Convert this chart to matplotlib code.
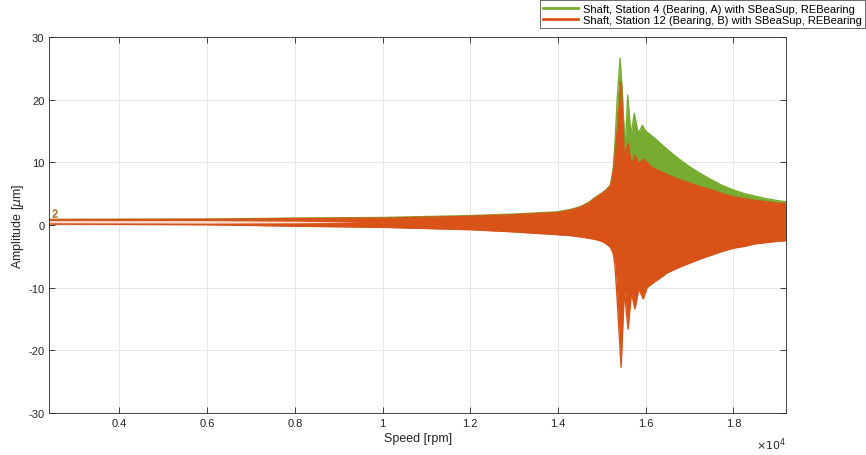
import matplotlib.pyplot as plt
import numpy as np
from matplotlib.ticker import FuncFormatter

plt.rcParams['font.family'] = ['Liberation Sans', 'DejaVu Sans']
plt.rcParams['axes.unicode_minus'] = False

# envelopes of the run-up response
green_speed = [2400, 6000, 8100, 10000, 12000, 13000, 14000, 14300, 14500, 14700, 14850,
               15000, 15100, 15200, 15260, 15300, 15350, 15416, 15470, 15530, 15590,
               15667, 15738, 15833, 15924, 16000, 16213, 16500, 16745, 17000, 17250,
               17500, 17750, 18000, 18250, 18500, 18750, 19000, 19200]
green_upper = [0.9, 0.95, 1.1, 1.2, 1.5, 1.75, 2.1, 2.5, 2.9, 3.6, 4.4,
               5.1, 5.6, 6.4, 9.0, 13.0, 20.0, 26.6, 21.0, 12.0, 20.7,
               14.3, 17.8, 14.6, 15.9, 15.0, 13.8, 12.0, 10.6, 9.3, 8.2,
               7.2, 6.3, 5.6, 5.0, 4.6, 4.2, 3.9, 3.7]
green_lower = [0.8, 0.7, 0.3, 0.0, -0.5, -0.9, -1.3, -1.5, -1.7, -1.9, -2.0,
               -2.4, -2.8, -3.4, -4.0, -5.5, -8.0, -20.0, -12.0, -9.0, -14.0,
               -9.5, -12.0, -9.0, -10.5, -10.0, -8.5, -7.0, -6.0, -5.4, -4.8,
               -4.3, -3.8, -3.3, -3.0, -2.8, -2.5, -2.3, -2.2]

orange_speed = [2400, 6000, 8100, 10000, 12000, 13000, 14000, 14300, 14500, 14700, 14850,
                15000, 15100, 15200, 15260, 15300, 15350, 15440, 15515, 15560, 15600,
                15675, 15755, 15845, 15945, 16030, 16140, 16500, 16780, 17000, 17250,
                17500, 17750, 18000, 18250, 18500, 18750, 19000, 19200]
orange_upper = [0.85, 0.9, 1.05, 1.1, 1.4, 1.65, 2.0, 2.4, 2.8, 3.5, 4.3,
                5.0, 5.5, 6.3, 8.5, 11.0, 15.0, 22.8, 10.6, 12.0, 13.0,
                9.5, 11.1, 9.8, 10.5, 10.0, 9.2, 8.0, 7.2, 6.7, 6.1,
                5.6, 5.0, 4.5, 4.2, 3.9, 3.7, 3.5, 3.4]
orange_lower = [0.15, 0.05, -0.2, -0.37, -0.75, -1.1, -1.55, -1.7, -1.9, -2.1, -2.3,
                -2.6, -3.0, -3.6, -4.5, -6.5, -11.8, -22.7, -10.2, -14.0, -16.6,
                -10.8, -13.4, -10.2, -11.8, -10.0, -9.4, -7.6, -6.7, -6.1, -5.4,
                -4.8, -4.2, -3.7, -3.4, -3.0, -2.8, -2.6, -2.5]

# sparse region inside the orange band at low speed
gap_speed = [2400, 6000, 8100, 9500]
gap_lo = [0.3, 0.3, 0.35, 0.45]
gap_hi = [0.7, 0.7, 0.6, 0.45]

green = '#77AC30'
orange = '#D95319'
labels = ['Shaft, Station 4 (Bearing, A) with SBeaSup, REBearing',
          'Shaft, Station 12 (Bearing, B) with SBeaSup, REBearing']

fig = plt.figure(figsize=(8.66, 4.56), dpi=100)
ax = fig.add_axes([0.0569, 0.0921, 0.8507, 0.8246])

ax.fill_between(green_speed, green_lower, green_upper, color=green, lw=0)
l1, = ax.plot(green_speed, green_upper, color=green, lw=1)
ax.fill_between(orange_speed, orange_lower, orange_upper, color=orange, lw=0)
l2, = ax.plot(orange_speed, orange_upper, color=orange, lw=1)
ax.plot(orange_speed, orange_lower, color=orange, lw=1)
ax.fill_between(gap_speed, gap_lo, gap_hi, color='white', alpha=0.8, lw=0)

ax.text(2450, 1.1, '2', color=green, fontsize=8, va='bottom')
ax.text(2450, 0.95, '2', color=orange, fontsize=8, va='bottom')

ax.set_xlim(2400, 19200)
ax.set_ylim(-30, 30)
ax.set_xticks([4000, 6000, 8000, 10000, 12000, 14000, 16000, 18000])
ax.set_yticks(np.arange(-30, 31, 10))
ax.xaxis.set_major_formatter(FuncFormatter(lambda v, p: f'{v / 1e4:g}'))
ax.grid(True, color='#e3e3e3', lw=0.6)
ax.set_axisbelow(True)
ax.tick_params(direction='in', top=True, right=True, labelsize=8,
               colors='#262626', length=4, width=0.6)
for s in ax.spines.values():
    s.set_color('#262626')
    s.set_linewidth(0.6)

ax.set_xlabel('Speed [rpm]', fontsize=9, color='#262626', labelpad=3)
ax.set_ylabel(r'Amplitude [$\mu$m]', fontsize=9, color='#262626', labelpad=2)
ax.text(1.0, -0.06, r'$\times10^{4}$', transform=ax.transAxes, ha='right', va='top',
        fontsize=8, color='#262626')

fig.legend([l1, l2], labels, loc='upper right', bbox_to_anchor=(0.999, 0.997),
           fontsize=8, frameon=True, fancybox=False, edgecolor='#262626',
           borderpad=0.3, labelspacing=0.1, handlelength=3.2, handletextpad=0.4,
           borderaxespad=0)
leg = fig.legends[0]
leg.get_frame().set_linewidth(0.6)
for h in leg.get_lines():
    h.set_linewidth(2)

fig.savefig('out.png', dpi=100)
